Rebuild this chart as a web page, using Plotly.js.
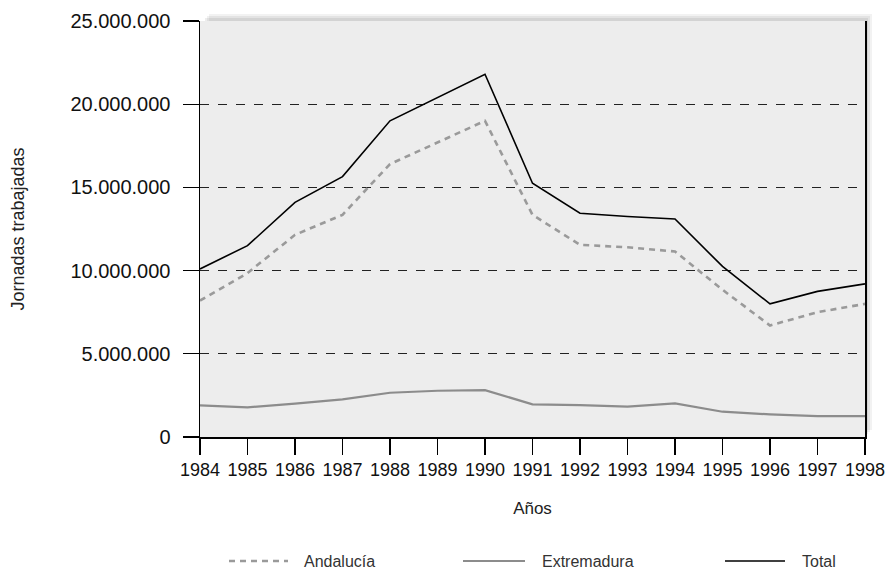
<!DOCTYPE html>
<html>
<head>
<meta charset="utf-8">
<script src="https://cdn.plot.ly/plotly-3.0.1.min.js"></script>
<style>html,body{margin:0;padding:0;background:#fff}#chart{width:888px;height:571px}</style>
</head>
<body>
<div id="chart"></div>
<script>
const years = [1984,1985,1986,1987,1988,1989,1990,1991,1992,1993,1994,1995,1996,1997,1998];
const yearLabels = years.map(String);
const andalucia = [8200000,9850000,12150000,13350000,16400000,17700000,19000000,13350000,11550000,11400000,11150000,8850000,6700000,7500000,8000000];
const extremadura = [1900000,1780000,2000000,2260000,2660000,2780000,2820000,1960000,1920000,1820000,2020000,1520000,1360000,1260000,1260000];
const total = [10100000,11500000,14100000,15650000,19000000,20400000,21800000,15250000,13450000,13250000,13100000,10250000,8000000,8750000,9200000];
const seriesNames = ['Andalucía','Extremadura','Total'];
const yTicks = [0,5000000,10000000,15000000,20000000,25000000];

const L = 200, R = 865, T = 21, B = 437;
const px = v => (v - L) / (R - L);
const py = v => (B - v) / (B - T);

const traces = [
  {x: years, y: andalucia, name: seriesNames[0], type: 'scatter', mode: 'lines',
   line: {color: '#9a9a9a', width: 2.6, dash: '6px,5px'}, showlegend: false},
  {x: years, y: extremadura, name: seriesNames[1], type: 'scatter', mode: 'lines',
   line: {color: '#8c8c8c', width: 2.2}, showlegend: false},
  {x: years, y: total, name: seriesNames[2], type: 'scatter', mode: 'lines',
   line: {color: '#000000', width: 1.6}, showlegend: false}
];

const shapes = [];
// soft shadow (top and right)
[[7,0.05],[5,0.06],[3,0.07]].forEach(([d,a]) => {
  shapes.push({type:'rect', xref:'paper', yref:'paper', layer:'below',
    x0: px(L + d + 2), x1: px(R + d), y0: py(B - d), y1: py(T - d),
    fillcolor: 'rgba(0,0,0,' + a + ')', line: {width: 0}});
});
// plot background
shapes.push({type:'rect', xref:'paper', yref:'paper', layer:'below',
  x0: 0, x1: 1, y0: 0, y1: 1, fillcolor: '#ededed', line: {width: 0}});

// manual legend
const legY = py(561);
const legendItems = [
  {x0: 229, x1: 288, tx: 303, line: traces[0].line},
  {x0: 463, x1: 525, tx: 541, line: traces[1].line},
  {x0: 725, x1: 785, tx: 801, line: traces[2].line}
];
const annotations = [];
legendItems.forEach((it, i) => {
  shapes.push({type:'line', xref:'paper', yref:'paper', x0: px(it.x0), x1: px(it.x1), y0: legY, y1: legY,
    line: {color: it.line.color, width: it.line.width, dash: it.line.dash || 'solid'}});
  annotations.push({xref:'paper', yref:'paper', x: px(it.tx), y: legY, xanchor:'left', yanchor:'middle',
    text: seriesNames[i], showarrow: false, borderpad: 0,
    font: {size: 16, color: '#333', family: 'Liberation Sans, Arial, sans-serif'}});
});

const layout = {
  width: 888, height: 571, autosize: false,
  margin: {l: L, r: 888 - R, t: T, b: 571 - B, pad: 0},
  paper_bgcolor: '#ffffff', plot_bgcolor: 'rgba(0,0,0,0)',
  separators: ',.',
  font: {family: 'Liberation Sans, Arial, sans-serif', color: '#111'},
  showlegend: false,
  xaxis: {
    range: [1984, 1998], tickvals: years, ticktext: yearLabels,
    ticks: 'outside', ticklen: 16, tickwidth: 1.2, tickcolor: '#000',
    showline: true, linecolor: '#000', linewidth: 1.5,
    showgrid: false, zeroline: false, automargin: false,
    tickfont: {size: 18, color: '#111'},
    title: {text: 'Años', font: {size: 17, color: '#222'}, standoff: 23}
  },
  yaxis: {
    range: [0, 25000000], tickvals: yTicks, tickformat: ',d',
    ticks: 'outside', ticklen: 16, tickwidth: 1.2, tickcolor: '#000',
    ticklabelstandoff: 8,
    showline: true, mirror: true, linecolor: '#000', linewidth: 1.5,
    showgrid: true, gridcolor: '#222', gridwidth: 1, griddash: 'dash',
    zeroline: false, automargin: false,
    tickfont: {size: 20, color: '#111'},
    title: {text: 'Jornadas trabajadas', font: {size: 18, color: '#222'}, standoff: 41}
  },
  shapes: shapes,
  annotations: annotations
};

Plotly.newPlot('chart', traces, layout, {displayModeBar: false, staticPlot: true});
</script>
</body>
</html>
